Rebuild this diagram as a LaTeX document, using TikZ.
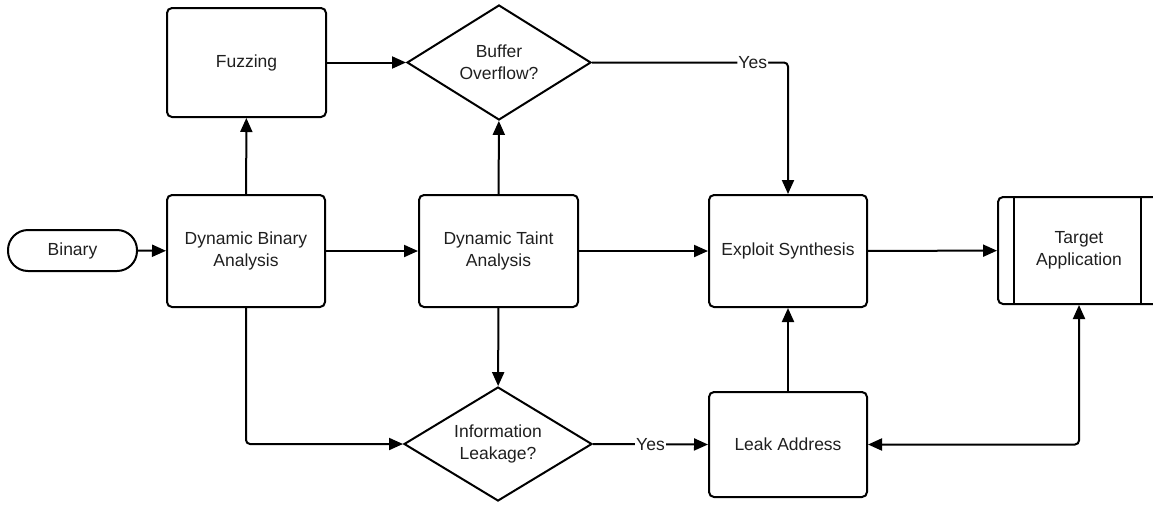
\documentclass[tikz,border=0pt]{standalone}
\usepackage{fontspec}
\setmainfont{Liberation Sans}
\usetikzlibrary{arrows.meta,shapes.geometric}
\tikzset{
  base/.style={draw=black, line width=2pt, text=black!88, align=center, inner sep=0pt,
    font=\fontsize{17.5}{22}\selectfont},
  box/.style={base, rectangle, rounded corners=5pt},
  term/.style={base, rectangle, rounded corners=20pt},
  decide/.style={base, diamond, shape aspect=1.6},
  conn/.style={line width=2pt, -{Triangle[length=14pt,width=12pt]}},
  biconn/.style={line width=2pt, {Triangle[length=14pt,width=12pt]}-{Triangle[length=14pt,width=12pt]}},
  lbl/.style={fill=white, inner sep=1pt, text=black!88, font=\fontsize{17.5}{22}\selectfont}
}
\begin{document}
\begin{tikzpicture}[x=1pt,y=-1pt]
\useasboundingbox (0,0) rectangle (1153,504);
\node[term, minimum width=129pt, minimum height=41pt] (bin) at (72.5,250.5) {Binary};
\node[box, minimum width=159pt, minimum height=109pt] (fuzz) at (246.5,62.5) {Fuzzing};
\node[box, minimum width=158pt, minimum height=112pt] (dba) at (246,251) {Dynamic Binary\\Analysis};
\node[decide, minimum width=184pt, minimum height=115pt] (bo) at (499,62.5) {Buffer\\Overflow?};
\node[box, minimum width=159pt, minimum height=112pt] (dta) at (498.5,251) {Dynamic Taint\\Analysis};
\node[box, minimum width=158pt, minimum height=112pt] (es) at (788,251) {Exploit Synthesis};
\node[box, minimum width=162pt, minimum height=107pt] (ta) at (1079,250.5) {Target\\Application};
\node[decide, minimum width=188pt, minimum height=114pt] (il) at (498,444) {Information\\Leakage?};
\node[box, minimum width=158pt, minimum height=105pt] (la) at (788,444.5) {Leak Address};
% inner lines of the target application
\draw[line width=2pt] (1014,197) -- (1014,304);
\draw[line width=2pt] (1141,197) -- (1141,304);
% connectors
\draw[conn] (bin) -- (dba);
\draw[conn] (dba) -- (fuzz);
\draw[conn] (fuzz.east) -- (bo.west);
\draw[conn] (dba) -- (dta);
\draw[conn] (dta) -- (bo);
\draw[conn] (dta) -- (es);
\draw[conn] (es) -- (ta);
\draw[conn, rounded corners=4pt] (bo.east) -| node[lbl, pos=0.41] {Yes} (es.north);
\draw[conn] (dta) -- (il);
\draw[conn, rounded corners=4pt] (dba.south) |- (il.west);
\draw[conn] (il.east) -- node[lbl] {Yes} (la.west);
\draw[conn] (la) -- (es);
\draw[biconn, rounded corners=4pt] (la.east) -| (ta.south);
\end{tikzpicture}
\end{document}
